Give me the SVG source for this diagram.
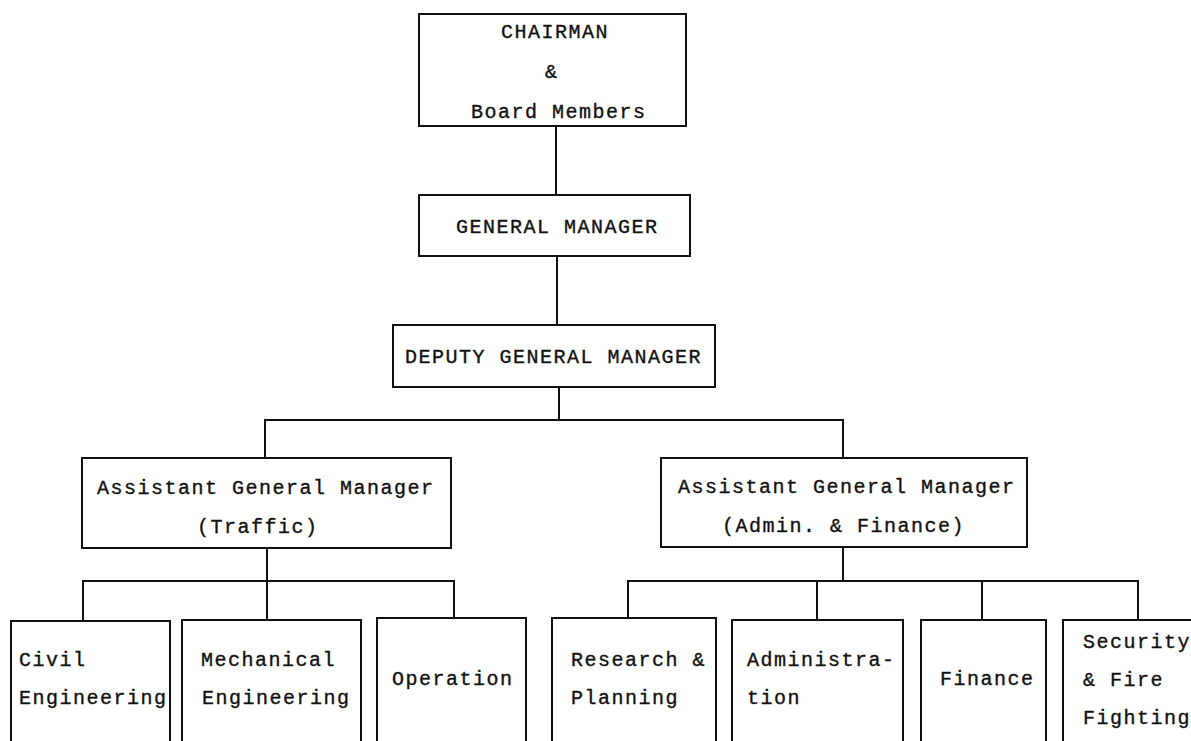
<svg xmlns="http://www.w3.org/2000/svg" width="1191" height="741" viewBox="0 0 1191 741">
<style>
.box{fill:none;stroke:#111;stroke-width:2}
.ln{fill:none;stroke:#111;stroke-width:2}
text{font-family:"Liberation Mono","DejaVu Sans Mono",monospace;font-size:20px;letter-spacing:1.5px;fill:#111;stroke:#111;stroke-width:0.35px}
</style>
<rect width="1191" height="741" fill="#fff"/>
<g id="connectors">
<path class="ln" d="M556,126V195"/>
<path class="ln" d="M557,256V325"/>
<path class="ln" d="M559,387V420"/>
<path class="ln" d="M265,458V420H843V458"/>
<path class="ln" d="M267,548V581"/>
<path class="ln" d="M83,621V581H454V618"/>
<path class="ln" d="M267,581V620"/>
<path class="ln" d="M843,547V581"/>
<path class="ln" d="M628,618V581H1138V620"/>
<path class="ln" d="M817,581V620"/>
<path class="ln" d="M982,581V620"/>
</g>
<g id="chairman">
<rect class="box" x="419" y="14" width="267" height="112"/>
<text x="501" y="38">CHAIRMAN</text>
<text x="545" y="78">&amp;</text>
<text x="471" y="118">Board Members</text>
</g>
<g id="general-manager">
<rect class="box" x="419" y="195" width="271" height="61"/>
<text x="456" y="233">GENERAL MANAGER</text>
</g>
<g id="deputy-general-manager">
<rect class="box" x="393" y="325" width="322" height="62"/>
<text x="405" y="363">DEPUTY GENERAL MANAGER</text>
</g>
<g id="agm-traffic">
<rect class="box" x="82" y="458" width="369" height="90"/>
<text x="97" y="494">Assistant General Manager</text>
<text x="197" y="533">(Traffic)</text>
</g>
<g id="agm-admin-finance">
<rect class="box" x="661" y="458" width="366" height="89"/>
<text x="678" y="493">Assistant General Manager</text>
<text x="722" y="532">(Admin. &amp; Finance)</text>
</g>
<g id="civil-engineering">
<rect class="box" x="11" y="621" width="159" height="140"/>
<text x="19" y="666">Civil</text>
<text x="19" y="704">Engineering</text>
</g>
<g id="mechanical-engineering">
<rect class="box" x="182" y="620" width="179" height="140"/>
<text x="201" y="666">Mechanical</text>
<text x="202" y="704">Engineering</text>
</g>
<g id="operation">
<rect class="box" x="377" y="618" width="149" height="140"/>
<text x="392" y="685">Operation</text>
</g>
<g id="research-planning">
<rect class="box" x="552" y="618" width="164" height="140"/>
<text x="571" y="666">Research &amp;</text>
<text x="571" y="704">Planning</text>
</g>
<g id="administration">
<rect class="box" x="732" y="620" width="171" height="140"/>
<text x="747" y="666">Administra-</text>
<text x="747" y="704">tion</text>
</g>
<g id="finance">
<rect class="box" x="921" y="620" width="125" height="140"/>
<text x="940" y="685">Finance</text>
</g>
<g id="security-fire-fighting">
<rect class="box" x="1063" y="620" width="140" height="140"/>
<text x="1083" y="648">Security</text>
<text x="1083" y="686">&amp; Fire</text>
<text x="1083" y="724">Fighting</text>
</g>
</svg>
